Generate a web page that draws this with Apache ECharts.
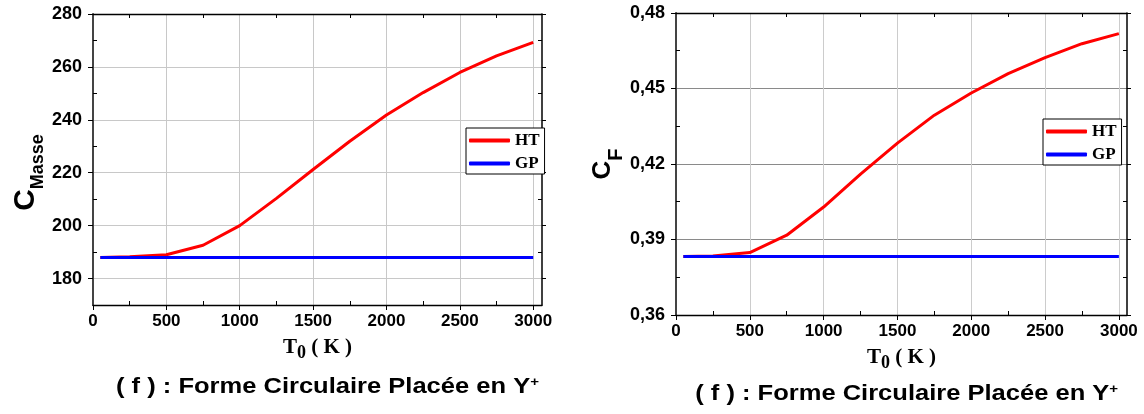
<!DOCTYPE html>
<html>
<head>
<meta charset="utf-8">
<script src="https://cdn.jsdelivr.net/npm/echarts@6/dist/echarts.min.js"></script>
<style>html,body{margin:0;padding:0;background:#fff;}#c{width:1144px;height:414px;}</style>
</head>
<body>
<div id="c"></div>
<script>
// ---- data ----
const T0 = [50, 250, 500, 750, 1000, 1250, 1500, 1750, 2000, 2250, 2500, 2750, 3000];
const masseHT = [188.0, 188.2, 189.0, 192.6, 200.0, 210.3, 221.2, 231.9, 241.8, 250.3, 257.9, 264.2, 269.3];
const masseGP = [188.0, 188.0, 188.0, 188.0, 188.0, 188.0, 188.0, 188.0, 188.0, 188.0, 188.0, 188.0, 188.0];
const cfHT = [0.3832, 0.3834, 0.3848, 0.3917, 0.4029, 0.4160, 0.4283, 0.4394, 0.4482, 0.4559, 0.4623, 0.4678, 0.4718];
const cfGP = [0.3832, 0.3832, 0.3832, 0.3832, 0.3832, 0.3832, 0.3832, 0.3832, 0.3832, 0.3832, 0.3832, 0.3832, 0.3832];
const xTicks = [0, 500, 1000, 1500, 2000, 2500, 3000];
const xMinor = [250, 750, 1250, 1750, 2250, 2750];
const masseTicks = [180, 200, 220, 240, 260, 280];
const masseMinor = [190, 210, 230, 250, 270];
const cfTicks = [0.36, 0.39, 0.42, 0.45, 0.48];
const cfMinor = [0.375, 0.405, 0.435, 0.465];
const seriesNames = ['HT', 'GP'];
const caption = '( f ) : Forme Circulaire Placée en Y';

const pairs = (xs, ys) => xs.map((x, i) => [x, ys[i]]);
const lblFont = {fontFamily: 'Liberation Sans', fontWeight: 'bold', color: '#000'};
const hidden = {axisLabel: {show: false}, splitLine: {show: false}};

// minor inward ticks are drawn by an axis placed on the opposite side and shifted onto this edge
function minorAxis(g, pos, min, max, values, shift) {
  return Object.assign({gridIndex: g, type: 'value', position: pos, offset: -shift, min: min, max: max,
    axisLine: {show: false, onZero: false},
    axisTick: {customValues: values, length: 4, lineStyle: {color: '#000'}}}, hidden);
}

function xAxes(g, max, gridColor, w, h) {
  return [
    {gridIndex: g, type: 'value', position: 'bottom', min: 0, max: max,
     axisLine: {onZero: false, lineStyle: {color: '#000', width: 1.3}},
     axisTick: {customValues: xTicks, length: 5, lineStyle: {color: '#000'}},
     axisLabel: Object.assign({customValues: xTicks, margin: 8, fontSize: 17, formatter: v => String(v)}, lblFont),
     splitLine: {show: true, lineStyle: {color: gridColor, width: 1}},
     name: '{t|T}{s|0}{t| ( K )}', nameLocation: 'middle', nameGap: 32,
     nameTextStyle: {rich: {
       t: {fontFamily: 'Liberation Serif', fontWeight: 'bold', fontSize: 21, lineHeight: 20, verticalAlign: 'top', color: '#000'},
       s: {fontFamily: 'Liberation Serif', fontWeight: 'bold', fontSize: 18, lineHeight: 18, padding: [7, 0, 0, 0], verticalAlign: 'top', color: '#000'}
     }}},
    Object.assign({gridIndex: g, type: 'value', position: 'top', min: 0, max: max,
     axisLine: {onZero: false, lineStyle: {color: '#000', width: 1.3}},
     axisTick: {show: false}}, hidden),
    minorAxis(g, 'top', 0, max, xMinor, h),     // inward ticks on bottom edge
    minorAxis(g, 'bottom', 0, max, xMinor, h)   // inward ticks on top edge
  ];
}

function yAxes(g, min, max, ticks, minor, gridColor, fmt, name, rich, nameGap, w) {
  return [
    {gridIndex: g, type: 'value', position: 'left', min: min, max: max,
     axisLine: {onZero: false, lineStyle: {color: '#444', width: 2}},
     axisTick: {customValues: ticks, length: 5, lineStyle: {color: '#000'}},
     axisLabel: Object.assign({customValues: ticks, margin: 11, fontSize: 18, formatter: fmt}, lblFont),
     splitLine: {show: true, lineStyle: {color: gridColor, width: 1}},
     name: name, nameLocation: 'middle', nameGap: nameGap, nameTextStyle: {rich: rich}},
    Object.assign({gridIndex: g, type: 'value', position: 'right', min: min, max: max,
     axisLine: {onZero: false, lineStyle: {color: '#000', width: 1.5}},
     axisTick: {customValues: ticks, length: 4, lineStyle: {color: '#000'}}}, hidden),
    minorAxis(g, 'right', min, max, minor, w),  // inward ticks on left edge
    minorAxis(g, 'left', min, max, minor, w)    // inward ticks on right edge
  ];
}

const nameFont = {fontFamily: 'Liberation Sans', fontWeight: 'bold', color: '#000', verticalAlign: 'top'};
const masseRich = {
  c: Object.assign({fontSize: 30, lineHeight: 30}, nameFont),
  s: Object.assign({fontSize: 18, lineHeight: 18, padding: [18, 26, 0, 0]}, nameFont)
};
const cfRich = {
  c: Object.assign({fontSize: 26, lineHeight: 26}, nameFont),
  s: Object.assign({fontSize: 20, lineHeight: 20, padding: [16, 0, 0, 0]}, nameFont)
};

const mkLegend = (left, top) => ({
  data: seriesNames, orient: 'vertical', left: left, top: top,
  icon: 'roundRect', itemWidth: 41, itemHeight: 4, itemGap: 6,
  padding: [4, 5, 2, 3], borderColor: '#000', borderWidth: 1, borderRadius: 0,
  backgroundColor: '#fff',
  textStyle: {fontFamily: 'Liberation Serif', fontWeight: 'bold', fontSize: 17, color: '#000', lineHeight: 16}
});

const lineSeries = (name, data, xi, yi, color) => ({
  name: name, type: 'line', xAxisIndex: xi, yAxisIndex: yi, data: data,
  symbol: 'none', lineStyle: {color: color, width: 3}, itemStyle: {color: color}
});

const captionText = (x, y) => ({
  type: 'text', x: x, y: y, scaleX: 1.16, originX: 0, originY: 0,
  style: {
    text: '{a|' + caption + '}{b|+}', align: 'center', verticalAlign: 'middle', fill: '#000',
    rich: {
      a: {fontFamily: 'Liberation Sans', fontWeight: 'bold', fontSize: 22, lineHeight: 24, verticalAlign: 'top', fill: '#000'},
      b: {fontFamily: 'Liberation Sans', fontWeight: 'bold', fontSize: 13, lineHeight: 13, verticalAlign: 'top', fill: '#000'}
    }
  }
});

const chart = echarts.init(document.getElementById('c'), null, {renderer: 'canvas'});
chart.setOption({
  animation: false,
  backgroundColor: '#fff',
  grid: [
    {left: 93, top: 14, width: 449, height: 291},
    {left: 676, top: 13, width: 451, height: 302}
  ],
  xAxis: [].concat(xAxes(0, 3060, '#c8c8c8', 449, 291), xAxes(1, 3055, '#cccccc', 451, 302)),
  yAxis: [].concat(
    yAxes(0, 170, 280, masseTicks, masseMinor, '#c8c8c8', v => String(v), '{c|C}{s|Masse}', masseRich, 52, 449),
    yAxes(1, 0.36, 0.48, cfTicks, cfMinor, '#8a8a8a', v => v.toFixed(2).replace('.', ','), '{c|C}{s|F}', cfRich, 46, 451)
  ),
  legend: [mkLegend(466, 128), mkLegend(1043, 119)],
  series: [
    lineSeries(seriesNames[0], pairs(T0, masseHT), 0, 0, '#ff0000'),
    lineSeries(seriesNames[1], pairs(T0, masseGP), 0, 0, '#0000ff'),
    lineSeries(seriesNames[0], pairs(T0, cfHT), 4, 4, '#ff0000'),
    lineSeries(seriesNames[1], pairs(T0, cfGP), 4, 4, '#0000ff')
  ],
  graphic: [captionText(327.5, 388), captionText(906.7, 394.5)]
});
</script>
</body>
</html>
